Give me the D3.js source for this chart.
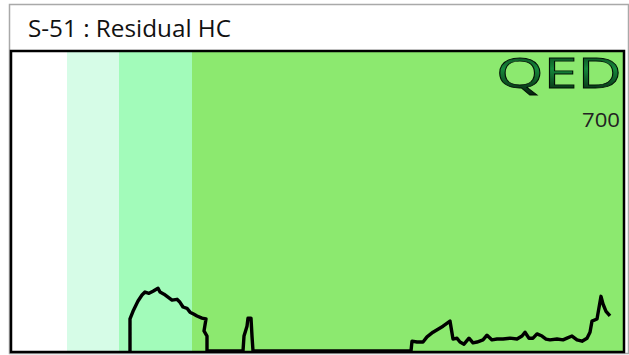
<!DOCTYPE html>
<html>
<head>
<meta charset="utf-8">
<script src="https://cdn.jsdelivr.net/npm/d3@7"></script>
<style>
  html, body { margin: 0; padding: 0; background: #fff; }
  svg { display: block; }
</style>
</head>
<body>
<svg id="chart" width="629" height="355"></svg>
<script>
// Residual hydrocarbon track for well S-51
const chartTitle = "S-51 : Residual HC";
const scaleMaxLabel = "700";
const logoText = "QED";

// Depth span of the track and curve scale
const depthDomain = [0, 611];
const valueDomain = [0, 700];

// Lithology / zone shading bands along depth
const bandStart = [0, 55, 107, 180];
const bandEnd   = [55, 107, 180, 611];
const bandColor = ["#ffffff", "#d6fce7", "#a2fbba", "#8ce96f"];

// Residual HC curve: depth positions and readings
const depth = [
  118, 118, 121, 126, 130, 133, 137, 141, 146, 148, 152, 156, 160, 165, 168, 171,
  175, 178, 182, 185, 190, 194, 192, 195, 195,
  231, 232, 235, 236, 239, 240, 241,
  399, 400, 405, 411, 415, 421, 426, 431, 438, 441, 445, 448, 452, 457, 461, 465,
  471, 475, 480, 485, 491, 498, 505, 510, 513, 517, 521, 525, 530, 534, 538, 545,
  551, 555, 560, 565, 570, 575, 578, 580, 585, 589, 591, 594, 598
];
const residualHC = [
  0, 75, 93, 117, 131, 138, 135, 140, 147, 138, 133, 126, 119, 121, 114, 103,
  100, 91, 86, 82, 77, 75, 47, 35, 0,
  0, 35, 58, 77, 77, 35, 0,
  0, 23, 21, 21, 33, 44, 51, 58, 70, 28, 30, 21, 16, 30, 19, 21,
  26, 37, 26, 28, 28, 30, 28, 35, 44, 30, 30, 40, 35, 28, 26, 28,
  26, 30, 35, 26, 23, 30, 44, 70, 75, 128, 110, 93, 82
];

const svg = d3.select("#chart");

// Title panel
svg.append("rect")
  .attr("x", 9.5).attr("y", 4.5)
  .attr("width", 619).attr("height", 349)
  .attr("fill", "#fff")
  .attr("stroke", "#a9a9a9")
  .attr("stroke-width", 1.5);

svg.append("text")
  .attr("x", 28).attr("y", 37)
  .attr("font-family", "Open Sans, sans-serif")
  .attr("font-size", 23)
  .attr("textLength", 203)
  .attr("lengthAdjust", "spacingAndGlyphs")
  .attr("fill", "#111")
  .text(chartTitle);

const plot = { left: 12, right: 623, top: 52, bottom: 351 };

const x = d3.scaleLinear().domain(depthDomain).range([plot.left, plot.right]);
const y = d3.scaleLinear().domain(valueDomain).range([plot.bottom, plot.top]);

const g = svg.append("g");

// Shading bands
g.selectAll("rect.band")
  .data(d3.range(bandStart.length))
  .join("rect")
  .attr("class", "band")
  .attr("x", i => x(bandStart[i]))
  .attr("y", plot.top)
  .attr("width", i => x(bandEnd[i]) - x(bandStart[i]))
  .attr("height", plot.bottom - plot.top)
  .attr("fill", i => bandColor[i]);

// Curve
const line = d3.line()
  .x((d, i) => x(depth[i]))
  .y(d => y(d));

g.append("path")
  .datum(residualHC)
  .attr("d", line)
  .attr("fill", "none")
  .attr("stroke", "#000")
  .attr("stroke-width", 3.4)
  .attr("stroke-linejoin", "round");

// Frame
svg.append("rect")
  .attr("x", 11).attr("y", 51)
  .attr("width", 613).attr("height", 301)
  .attr("fill", "none")
  .attr("stroke", "#000")
  .attr("stroke-width", 2.5);

// Logo
const defs = svg.append("defs");
const grad = defs.append("linearGradient")
  .attr("id", "logoGrad").attr("x1", 0).attr("y1", 0).attr("x2", 0).attr("y2", 1);
grad.append("stop").attr("offset", "0%").attr("stop-color", "#031a0a");
grad.append("stop").attr("offset", "45%").attr("stop-color", "#168a3c");
grad.append("stop").attr("offset", "100%").attr("stop-color", "#020d05");

svg.append("text")
  .attr("x", 496).attr("y", 88)
  .attr("font-family", "Open Sans, sans-serif")
  .attr("font-weight", 400)
  .attr("font-size", 42)
  .attr("textLength", 126)
  .attr("lengthAdjust", "spacingAndGlyphs")
  .attr("fill", "url(#logoGrad)")
  .attr("stroke", "#021006")
  .attr("stroke-width", 0.8)
  .text(logoText);

// Curve scale maximum
svg.append("text")
  .attr("x", 620).attr("y", 127)
  .attr("text-anchor", "end")
  .attr("font-family", "Open Sans, sans-serif")
  .attr("font-size", 20)
  .attr("textLength", 38)
  .attr("lengthAdjust", "spacingAndGlyphs")
  .attr("fill", "#222")
  .text(scaleMaxLabel);
</script>
</body>
</html>
